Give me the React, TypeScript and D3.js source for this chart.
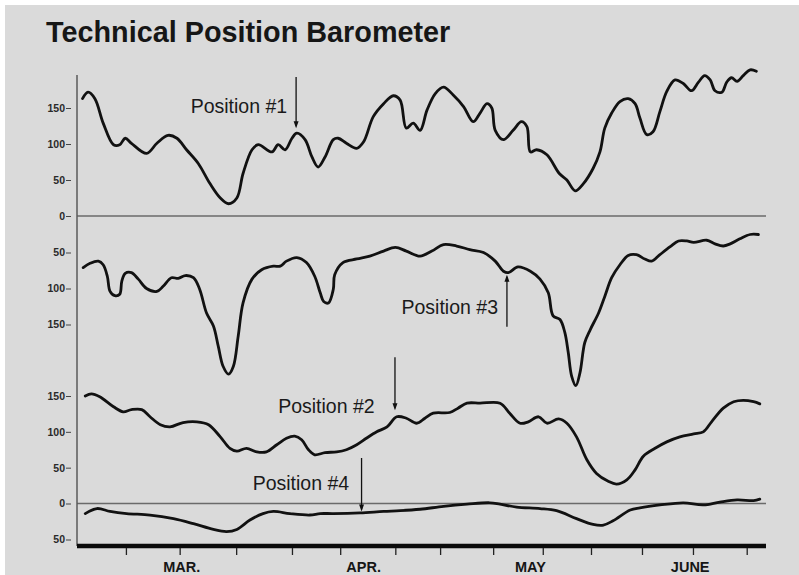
import React, { useEffect, useRef } from 'react';
import * as d3 from 'd3';

// x axis is a session index 0..100, months and ticks are placed on it
const title = 'Technical Position Barometer';
const monthLabels = ['MAR.', 'APR.', 'MAY', 'JUNE'];
const monthAt = [15.2, 41.6, 65.8, 89.0];
const tickAt = [7.1, 14.9, 23.1, 31.2, 38.2, 46.2, 52.7, 60.4, 67.6, 74.6, 82.0, 89.4, 97.2];

const ticksTop = [0, 50, 100, 150];
const ticksSecond = [50, 100, 150];
const ticksThird = [0, 50, 100, 150];
const ticksBottom = [50];

// Position #1 (top panel)
const position1 = [
  [0.8, 163], [1.6, 172], [2.6, 163], [3.8, 129], [5.3, 99], [6.2, 99], [7.0, 108], [7.9, 101],
  [10.1, 87], [11.6, 101], [13.2, 112], [14.5, 108], [15.9, 92], [17.6, 73], [19.3, 45], [20.8, 25],
  [22.0, 17], [23.2, 25], [24.1, 59], [25.4, 92], [26.3, 99], [28.3, 89], [29.2, 99], [30.2, 92],
  [31.2, 108], [31.9, 115], [33.1, 106], [34.1, 82], [35.0, 68], [36.0, 82], [37.2, 106], [37.9, 108],
  [39.1, 101], [40.6, 94], [41.6, 103], [43.0, 138], [44.5, 156], [45.9, 167], [46.9, 161], [47.8, 122],
  [48.8, 129], [49.8, 119], [50.8, 147], [52.0, 170], [53.2, 179], [54.6, 168], [56.1, 152], [57.5, 131],
  [58.5, 143], [59.5, 156], [60.2, 150], [60.7, 119], [61.9, 106], [63.3, 119], [64.5, 131], [65.3, 124],
  [65.8, 89], [66.7, 92], [68.2, 85], [70.0, 59], [71.1, 50], [72.3, 35], [73.5, 45], [74.9, 66],
  [75.9, 89], [76.6, 122], [77.6, 143], [78.8, 159], [80.0, 163], [81.0, 156], [81.7, 136], [82.7, 113],
  [83.6, 117], [84.6, 145], [85.6, 173], [86.8, 189], [88.0, 184], [89.2, 174], [90.2, 186], [91.1, 195],
  [91.9, 189], [92.6, 174], [93.6, 172], [94.3, 186], [95.0, 192], [95.8, 187], [96.7, 195], [97.7, 203],
  [98.6, 201],
];

// Position #3 (second panel, scale runs downward)
const position3 = [
  [0.9, 71], [1.9, 65], [3.1, 62], [3.8, 67], [4.4, 83], [4.8, 104], [5.5, 110], [6.2, 108],
  [6.5, 90], [7.0, 79], [7.9, 78], [8.9, 87], [10.1, 100], [11.6, 104], [12.5, 97], [13.7, 85],
  [14.7, 86], [15.7, 82], [16.9, 85], [17.8, 101], [18.8, 134], [19.8, 152], [20.5, 180], [21.2, 208],
  [22.0, 219], [22.7, 208], [23.4, 166], [24.1, 120], [25.4, 87], [26.8, 74], [28.5, 69], [29.5, 69],
  [30.4, 62], [31.9, 57], [33.3, 64], [34.5, 83], [35.3, 106], [35.8, 118], [36.5, 120], [37.2, 101],
  [37.4, 81], [38.6, 64], [40.6, 59], [42.5, 55], [44.5, 48], [46.2, 43], [47.8, 48], [49.8, 55],
  [51.5, 48], [53.2, 39], [55.1, 41], [57.0, 46], [59.0, 50], [60.7, 62], [61.9, 76], [62.6, 78],
  [64.0, 70], [65.8, 76], [67.2, 87], [68.4, 106], [69.1, 138], [70.1, 143], [70.8, 161], [71.3, 189],
  [71.8, 222], [72.4, 235], [73.0, 217], [73.7, 175], [74.5, 157], [75.7, 134], [76.6, 111], [77.6, 85],
  [78.8, 67], [80.0, 54], [81.2, 53], [82.4, 59], [83.4, 62], [84.6, 53], [86.1, 42], [87.3, 34],
  [88.5, 34], [89.5, 36], [91.4, 33], [92.6, 38], [93.8, 41], [94.8, 38], [96.2, 31], [97.7, 25],
  [98.9, 25],
];

// Position #2 (third panel)
const position2 = [
  [1.2, 150], [2.1, 153], [3.3, 149], [5.3, 135], [6.7, 128], [7.9, 131], [9.4, 131], [10.6, 121],
  [12.1, 110], [13.5, 107], [15.4, 113], [17.4, 114], [19.1, 110], [20.8, 93], [22.2, 77], [23.2, 73],
  [24.6, 77], [26.1, 72], [27.5, 72], [29.0, 82], [30.4, 91], [31.6, 94], [32.6, 89], [33.6, 75],
  [34.5, 68], [36.0, 71], [37.7, 72], [39.1, 75], [40.6, 82], [42.0, 91], [43.5, 100], [45.0, 107],
  [46.4, 121], [47.8, 119], [49.3, 112], [50.5, 119], [51.7, 126], [54.1, 127], [55.3, 133], [56.6, 140],
  [58.5, 140], [61.4, 140], [62.8, 126], [64.3, 112], [65.5, 114], [67.0, 121], [68.2, 112], [69.9, 118],
  [71.1, 112], [72.5, 93], [74.0, 61], [75.4, 42], [77.1, 31], [78.3, 27], [79.8, 33], [81.0, 47],
  [82.2, 66], [83.9, 77], [85.6, 86], [87.5, 93], [89.5, 97], [90.9, 100], [92.1, 114], [93.8, 133],
  [95.3, 142], [96.7, 144], [98.2, 142], [99.1, 139],
];

// Position #4 (bottom panel, scale runs downward)
const position4 = [
  [1.2, 14], [2.9, 7], [4.8, 11], [7.2, 14], [10.6, 16], [14.0, 21], [16.9, 28], [19.8, 36],
  [21.7, 39], [23.2, 36], [25.1, 23], [27.0, 14], [28.5, 11], [30.9, 14], [33.8, 16], [35.3, 14],
  [37.2, 14], [41.1, 13], [44.5, 11], [46.9, 10], [49.8, 8], [53.2, 4], [56.6, 1], [59.9, -1],
  [61.4, 1], [63.8, 5], [67.2, 7], [69.6, 10], [72.5, 21], [74.9, 29], [76.4, 30], [77.8, 24],
  [80.3, 9], [81.7, 6], [84.6, 2], [88.0, -1], [90.9, 2], [93.3, -2], [95.8, -5], [98.2, -4],
  [99.1, -6],
];

export default function App() {
  const svgRef = useRef<SVGSVGElement>(null);

  useEffect(() => {
    const width = 799;
    const height = 575;
    const svg = d3.select(svgRef.current)
      .attr('width', width)
      .attr('height', height)
      .style('position', 'absolute')
      .style('left', 0)
      .style('top', 0)
      .style('background', '#ffffff');
    svg.selectAll('*').remove();

    const font = '"Liberation Sans", Arial, Helvetica, sans-serif';

    // paper
    svg.append('rect')
      .attr('x', 5).attr('y', 5)
      .attr('width', width).attr('height', height)
      .attr('fill', '#dadada');

    // scales
    const x = d3.scaleLinear().domain([0, 100]).range([77, 766]);
    const yTop = d3.scaleLinear().domain([0, 150]).range([216, 108]);
    const ySecond = d3.scaleLinear().domain([0, 150]).range([216.5, 324.5]);
    const yThird = d3.scaleLinear().domain([0, 150]).range([503.5, 396]);
    const yBottom = d3.scaleLinear().domain([0, 50]).range([503.5, 539.5]);

    // title
    svg.append('text')
      .attr('x', 46).attr('y', 42)
      .attr('font-family', font)
      .attr('font-weight', 'bold')
      .attr('font-size', 28.8)
      .attr('fill', '#161616')
      .text(title);

    // zero lines
    [yTop(0), yThird(0)].forEach(y0 => {
      svg.append('line')
        .attr('x1', x(0)).attr('x2', x(100))
        .attr('y1', y0).attr('y2', y0)
        .attr('stroke', '#6a6a6a')
        .attr('stroke-width', 1.3);
    });

    // vertical axis line
    svg.append('line')
      .attr('x1', x(0)).attr('x2', x(0))
      .attr('y1', 75).attr('y2', 546)
      .attr('stroke', '#5a5a5a')
      .attr('stroke-width', 1.5);

    // y tick labels per panel
    const panelAxes: [d3.ScaleLinear<number, number>, number[]][] = [
      [yTop, ticksTop], [ySecond, ticksSecond], [yThird, ticksThird], [yBottom, ticksBottom],
    ];
    panelAxes.forEach(([scale, ticks]) => {
      const g = svg.append('g')
        .attr('transform', 'translate(71,0)')
        .call(d3.axisLeft(scale).tickValues(ticks).tickSize(5).tickPadding(1).tickFormat(d3.format('d')));
      g.select('.domain').remove();
      g.selectAll('line').attr('stroke', '#444').attr('stroke-width', 1);
      g.selectAll('text')
        .attr('font-family', font)
        .attr('font-weight', 'bold')
        .attr('font-size', 10.5)
        .attr('fill', '#2a2a2a');
    });

    // bottom axis
    svg.append('line')
      .attr('x1', x(0)).attr('x2', x(100))
      .attr('y1', 546).attr('y2', 546)
      .attr('stroke', '#0a0a0a')
      .attr('stroke-width', 4.5);
    const xg = svg.append('g')
      .attr('transform', 'translate(0,548)')
      .call(d3.axisBottom(x).tickValues(tickAt).tickSize(7).tickFormat(() => ''));
    xg.select('.domain').remove();
    xg.selectAll('line').attr('stroke', '#222').attr('stroke-width', 1.3);

    svg.selectAll('.month')
      .data(monthLabels)
      .join('text')
      .attr('class', 'month')
      .attr('x', (d, i) => x(monthAt[i]))
      .attr('y', 572)
      .attr('text-anchor', 'middle')
      .attr('font-family', font)
      .attr('font-weight', 'bold')
      .attr('font-size', 14.5)
      .attr('fill', '#161616')
      .text(d => d);

    // curves
    const series: [number[][], d3.ScaleLinear<number, number>][] = [
      [position1, yTop], [position3, ySecond], [position2, yThird], [position4, yBottom],
    ];
    series.forEach(([data, y]) => {
      const line = d3.line<number[]>()
        .x(d => x(d[0]))
        .y(d => y(d[1]))
        .curve(d3.curveCatmullRom.alpha(0.5));
      svg.append('path')
        .attr('d', line(data))
        .attr('fill', 'none')
        .attr('stroke', '#111')
        .attr('stroke-width', 2.8)
        .attr('stroke-linejoin', 'round')
        .attr('stroke-linecap', 'round');
    });

    // annotations: label position and arrow (from -> to) in panel units
    const notes: { text: string; tx: number; ty: number; ax: number; from: number; to: number; y: d3.ScaleLinear<number, number>; ly: d3.ScaleLinear<number, number> }[] = [
      { text: 'Position #1', tx: 16.5, ty: 143, ax: 31.8, from: 193, to: 122, y: yTop, ly: yTop },
      { text: 'Position #3', tx: 47.1, ty: 135, ax: 62.4, from: 153, to: 81, y: ySecond, ly: ySecond },
      { text: 'Position #2', tx: 29.2, ty: 126, ax: 46.15, from: 204, to: 130, y: yThird, ly: yThird },
      { text: 'Position #4', tx: 25.5, ty: 19, ax: 41.3, from: 63.5, to: 11, y: yBottom, ly: yThird },
    ];
    notes.forEach(n => {
      svg.append('text')
        .attr('x', x(n.tx)).attr('y', n.ly(n.ty))
        .attr('font-family', font)
        .attr('font-size', 19.5)
        .attr('fill', '#1a1a1a')
        .text(n.text);
      const ax = x(n.ax);
      const y0 = n.text === 'Position #4' ? yThird(n.from) : n.y(n.from);
      const y1 = n.y(n.to);
      const dir = y1 > y0 ? 1 : -1;
      svg.append('line')
        .attr('x1', ax).attr('x2', ax)
        .attr('y1', y0).attr('y2', y1 - dir * 2)
        .attr('stroke', '#111')
        .attr('stroke-width', 1.3);
      svg.append('path')
        .attr('d', `M${ax - 2.5},${y1 - dir * 7}L${ax},${y1}L${ax + 2.5},${y1 - dir * 7}Z`)
        .attr('fill', '#111');
    });
  }, []);

  return <svg ref={svgRef}></svg>;
}
